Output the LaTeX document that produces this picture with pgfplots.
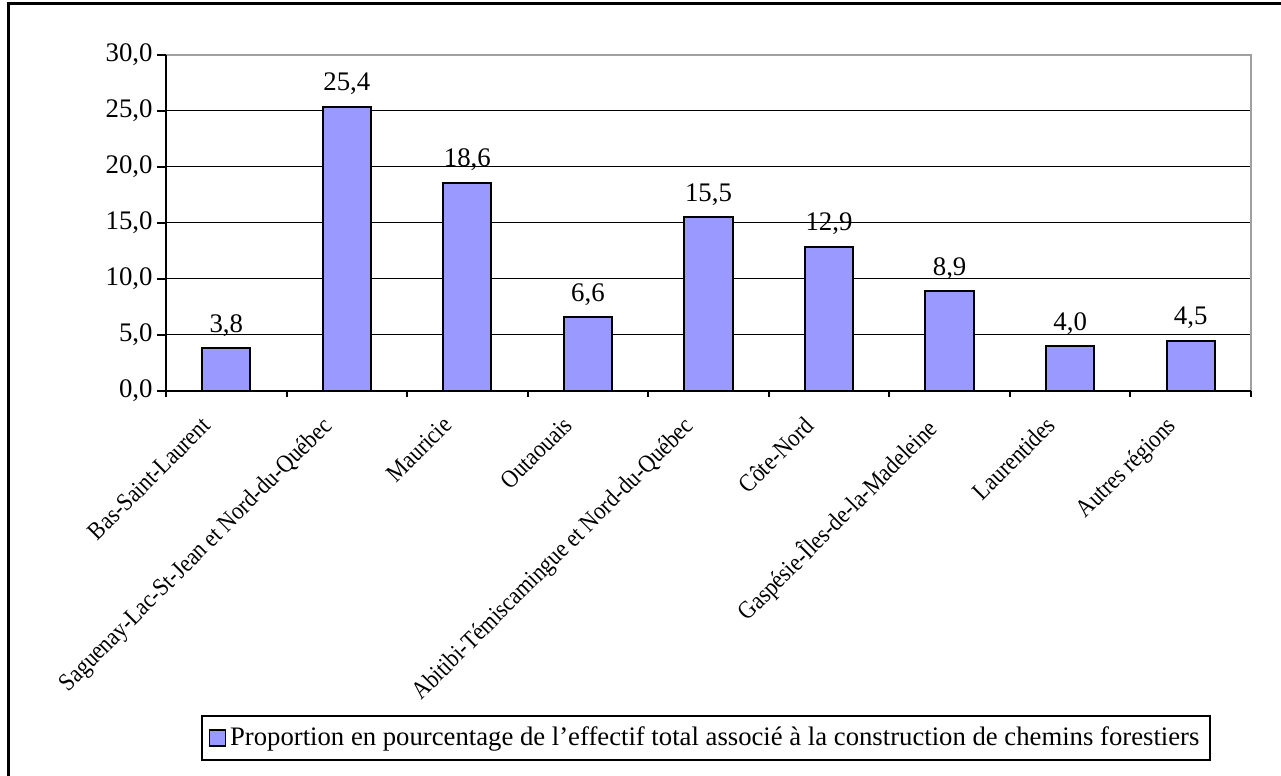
\documentclass[border=0pt]{standalone}
\usepackage{fontspec}
\setmainfont{Liberation Serif}
\newfontfamily\narrowfont[FakeStretch=0.88]{Liberation Serif}
\usepackage{pgfplots}
\pgfplotsset{compat=1.18}
\definecolor{barblue}{HTML}{9999FF}
\definecolor{bordergray}{HTML}{A0A0A0}

\begin{document}
\begin{tikzpicture}[font=\fontsize{13.4}{16}\selectfont]
% 1 px of the reference = 0.5pt
\useasboundingbox (0,0) rectangle (640.5pt,388pt);
\draw[black, line width=1.5pt] (4pt,0pt) -- (4pt,386pt) -- (640.5pt,386pt);
\begin{axis}[
  at={(83pt,192.5pt)}, anchor=south west,
  scale only axis, width=542.5pt, height=168pt,
  ybar, bar width=0.4,
  xmin=-0.5, xmax=8.5, ymin=0, ymax=30,
  xtick={0,...,8},
  xticklabels={Bas-Saint-Laurent, Saguenay-Lac-St-Jean et Nord-du-Québec, Mauricie, Outaouais, Abitibi-Témiscamingue et Nord-du-Québec, Côte-Nord, Gaspésie-Îles-de-la-Madeleine, Laurentides, Autres régions},
  xticklabel style={xshift=-13pt, yshift=-6pt, rotate=45, anchor=north east, inner sep=1pt,
    font=\fontsize{12.5}{15}\narrowfont},
  minor xtick={-0.5,0.5,...,8.5},
  ytick={0,5,...,30},
  xtick pos=bottom, ytick pos=left, tick align=outside,
  major x tick style={draw=none},
  minor x tick style={black, line width=1pt},
  major y tick style={black, line width=1pt},
  major tick length=4.5pt, minor tick length=3pt,
  ymajorgrids, major grid style={black, line width=0.5pt},
  axis line style={draw=none},
  /pgf/number format/.cd, fixed, fixed zerofill, precision=1, use comma, assume math mode=true,
  /pgfplots/.cd,
  yticklabel style={inner sep=2pt},
  nodes near coords,
  every node near coord/.append style={anchor=south, yshift=2pt},
  legend style={at={(0.4977,-1.0327)}, anchor=center, draw=black, line width=1pt,
    inner xsep=3.5pt, inner ysep=3.5pt, legend cell align=left,
    font=\fontsize{13.35}{16}\selectfont},
  legend image code/.code={\draw[#1, draw=black, line width=0.75pt] (0pt,-4pt) rectangle (8pt,4pt);},
  clip=false,
]
\addplot[fill=barblue, draw=black, line width=1pt] coordinates {
  (0,3.8) (1,25.4) (2,18.6) (3,6.6) (4,15.5) (5,12.9) (6,8.9) (7,4.0) (8,4.5)};
\addlegendentry{Proportion en pourcentage de l'effectif total associé à la construction de chemins forestiers}
\draw[bordergray, line width=1pt] (rel axis cs:0,1) -- (rel axis cs:1,1) -- (rel axis cs:1,0);
\draw[black, line width=1pt] (rel axis cs:0,1) -- (rel axis cs:0,0) -- (rel axis cs:1,0);
\end{axis}
\end{tikzpicture}
\end{document}
